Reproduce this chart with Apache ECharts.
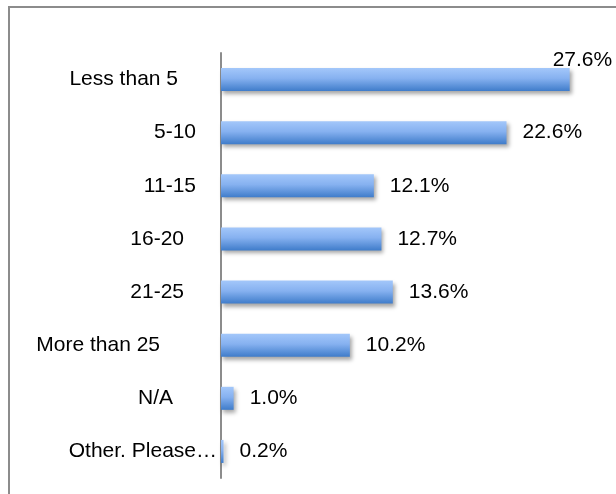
<!DOCTYPE html>
<html>
<head>
<meta charset="utf-8">
<script src="https://cdn.jsdelivr.net/npm/echarts@6/dist/echarts.min.js"></script>
<style>
  html, body { margin: 0; padding: 0; background: #fff; }
  #chart { width: 616px; height: 494px; }
</style>
</head>
<body>
<div id="chart"></div>
<script>
// Years-of-experience breakdown (share of respondents, %)
const categories = ['Less than 5', '5-10', '11-15', '16-20', '21-25', 'More than 25', 'N/A', 'Other. Please…'];
const shares = [27.6, 22.6, 12.1, 12.7, 13.6, 10.2, 1.0, 0.2];

// Right-hand padding for each category label (keeps the staggered look of the labels)
const labelPadRight = [39, 21, 21, 33, 33, 57, 44, 0];

const FONT = '"Liberation Sans", Arial, sans-serif';

const rich = {};
labelPadRight.forEach((p, i) => {
  rich['c' + i] = { fontFamily: FONT, fontSize: 21, color: '#000', padding: [0, p, 0, 0] };
});

const barData = shares.map((v, i) => {
  const item = { value: v };
  if (i === 0) {
    // the longest bar's label is tucked above the bar end
    item.label = { offset: [-33, -19] };
  }
  return item;
});

const chart = echarts.init(document.getElementById('chart'), null, { renderer: 'canvas' });
chart.setOption({
  animation: false,
  backgroundColor: '#ffffff',
  graphic: [{
    type: 'rect',
    shape: { x: 9, y: 7, width: 700, height: 600 },
    style: { fill: null, stroke: '#8c8c8c', lineWidth: 2 },
    silent: true,
    z: -10
  }],
  grid: { left: 221, right: 16, top: 53, bottom: 16 },
  xAxis: {
    type: 'value',
    min: 0,
    max: 30,
    show: false
  },
  yAxis: {
    type: 'category',
    data: categories,
    inverse: true,
    axisLine: { show: true, lineStyle: { color: '#8c8c8c', width: 2 } },
    axisTick: { show: false },
    axisLabel: {
      margin: 4,
      align: 'right',
      formatter: (val, idx) => '{c' + idx + '|' + val + '}',
      rich: rich
    },
    splitLine: { show: false }
  },
  series: [{
    type: 'bar',
    data: barData,
    barWidth: 23,
    itemStyle: {
      color: new echarts.graphic.LinearGradient(0, 0, 0, 1, [
        { offset: 0, color: '#a3c7fa' },
        { offset: 0.45, color: '#86b1f0' },
        { offset: 1, color: '#3f7cca' }
      ]),
      shadowColor: 'rgba(0,0,0,0.35)',
      shadowBlur: 4,
      shadowOffsetX: 2,
      shadowOffsetY: 3
    },
    label: {
      show: true,
      position: 'right',
      distance: 16,
      fontFamily: FONT,
      fontSize: 21,
      color: '#000',
      formatter: p => p.value.toFixed(1) + '%'
    }
  }]
});
</script>
</body>
</html>
